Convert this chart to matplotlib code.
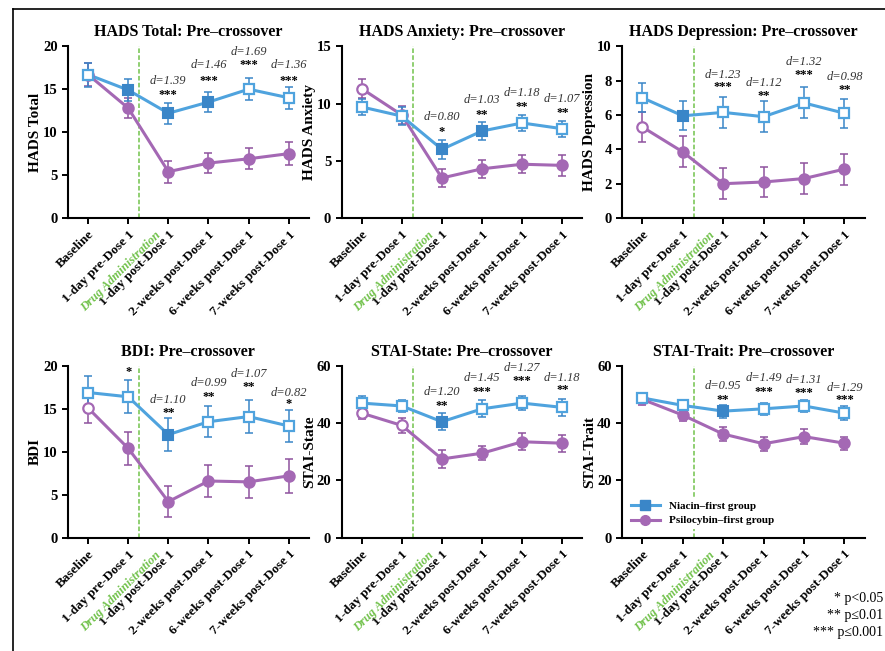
import numpy as np
import matplotlib.pyplot as plt
from matplotlib.lines import Line2D

plt.rcParams['font.family'] = ['Liberation Serif', 'DejaVu Serif']
plt.rcParams['font.weight'] = 'bold'

timepoints = ['Baseline', '1-day pre-Dose 1', '1-day post-Dose 1',
              '2-weeks post-Dose 1', '6-weeks post-Dose 1', '7-weeks post-Dose 1']

# HADS Total
total_nia = [16.7, 14.9, 12.2, 13.5, 15.0, 14.0]
total_nia_err = [1.4, 1.3, 1.2, 1.2, 1.3, 1.3]
total_psi = [16.7, 12.8, 5.4, 6.4, 6.9, 7.5]
total_psi_err = [1.3, 1.2, 1.3, 1.2, 1.2, 1.3]

# HADS Anxiety
anx_nia = [9.7, 8.9, 6.0, 7.6, 8.3, 7.8]
anx_nia_err = [0.7, 0.8, 0.8, 0.8, 0.7, 0.7]
anx_psi = [11.3, 9.0, 3.5, 4.3, 4.7, 4.6]
anx_psi_err = [0.8, 0.8, 0.8, 0.8, 0.8, 0.9]

# HADS Depression
dep_nia = [7.0, 5.95, 6.15, 5.9, 6.7, 6.1]
dep_nia_err = [0.85, 0.85, 0.9, 0.9, 0.9, 0.85]
dep_psi = [5.3, 3.85, 2.0, 2.1, 2.3, 2.85]
dep_psi_err = [0.9, 0.9, 0.9, 0.9, 0.9, 0.9]

# BDI
bdi_nia = [16.9, 16.4, 12.0, 13.5, 14.1, 13.0]
bdi_nia_err = [1.9, 1.9, 1.9, 1.8, 1.9, 1.9]
bdi_psi = [15.1, 10.4, 4.2, 6.6, 6.5, 7.2]
bdi_psi_err = [1.8, 1.9, 1.8, 1.9, 1.9, 2.0]

# STAI-State
state_nia = [47.0, 46.0, 40.5, 45.0, 47.0, 45.5]
state_nia_err = [2.5, 2.0, 3.0, 3.0, 2.5, 3.0]
state_psi = [43.5, 39.2, 27.5, 29.5, 33.5, 33.0]
state_psi_err = [2.0, 2.5, 3.0, 2.5, 3.0, 3.0]

# STAI-Trait
trait_nia = [48.8, 46.2, 44.2, 45.0, 46.0, 43.5]
trait_nia_err = [1.8, 1.8, 2.3, 2.0, 2.0, 2.5]
trait_psi = [48.3, 42.8, 36.2, 32.8, 35.3, 33.0]
trait_psi_err = [1.8, 2.0, 2.5, 2.5, 2.5, 2.3]

# filled (1) / open (0) markers
total_nia_fill = [0, 1, 1, 1, 0, 0]
total_psi_fill = [0, 1, 1, 1, 1, 1]
anx_nia_fill = [0, 0, 1, 1, 0, 0]
anx_psi_fill = [0, 0, 1, 1, 1, 1]
dep_nia_fill = [0, 1, 0, 0, 0, 0]
dep_psi_fill = [0, 1, 1, 1, 1, 1]
bdi_nia_fill = [0, 0, 1, 0, 0, 0]
bdi_psi_fill = [0, 1, 1, 1, 1, 1]
state_nia_fill = [0, 0, 1, 0, 0, 0]
state_psi_fill = [0, 0, 1, 1, 1, 1]
trait_nia_fill = [0, 0, 1, 0, 0, 0]
trait_psi_fill = [1, 1, 1, 1, 1, 1]

# significance and effect sizes
total_idx, total_stars, total_d = [2, 3, 4, 5], ['***', '***', '***', '***'], ['1.39', '1.46', '1.69', '1.36']
anx_idx, anx_stars, anx_d = [2, 3, 4, 5], ['*', '**', '**', '**'], ['0.80', '1.03', '1.18', '1.07']
dep_idx, dep_stars, dep_d = [2, 3, 4, 5], ['***', '**', '***', '**'], ['1.23', '1.12', '1.32', '0.98']
bdi_idx, bdi_stars, bdi_d = [1, 2, 3, 4, 5], ['*', '**', '**', '**', '*'], ['', '1.10', '0.99', '1.07', '0.82']
state_idx, state_stars, state_d = [2, 3, 4, 5], ['**', '***', '***', '**'], ['1.20', '1.45', '1.27', '1.18']
trait_idx, trait_stars, trait_d = [2, 3, 4, 5], ['**', '***', '***', '***'], ['0.95', '1.49', '1.31', '1.29']

# label heights (data units)
total_sy, total_dy = [14.3, 16.0, 17.8, 16.0], [15.9, 17.8, 19.3, 17.8]
anx_sy, anx_dy = [7.5, 9.0, 9.7, 9.2], [8.8, 10.3, 10.9, 10.4]
dep_sy, dep_dy = [7.6, 7.1, 8.3, 7.45], [8.3, 7.85, 9.1, 8.2]
bdi_sy, bdi_dy = [19.3, 14.5, 16.4, 17.5, 15.6], [0, 16.0, 18.0, 19.0, 16.9]
state_sy, state_dy = [46, 50.9, 54.7, 51.6], [51, 55.8, 59.3, 55.8]
trait_sy, trait_dy = [48, 51, 50.7, 48], [52.8, 55.9, 54.9, 52.4]

panels = [
    ('HADS Total', 20, 5, total_nia, total_nia_err, total_psi, total_psi_err, total_nia_fill, total_psi_fill,
     total_idx, total_stars, total_d, total_sy, total_dy),
    ('HADS Anxiety', 15, 5, anx_nia, anx_nia_err, anx_psi, anx_psi_err, anx_nia_fill, anx_psi_fill,
     anx_idx, anx_stars, anx_d, anx_sy, anx_dy),
    ('HADS Depression', 10, 2, dep_nia, dep_nia_err, dep_psi, dep_psi_err, dep_nia_fill, dep_psi_fill,
     dep_idx, dep_stars, dep_d, dep_sy, dep_dy),
    ('BDI', 20, 5, bdi_nia, bdi_nia_err, bdi_psi, bdi_psi_err, bdi_nia_fill, bdi_psi_fill,
     bdi_idx, bdi_stars, bdi_d, bdi_sy, bdi_dy),
    ('STAI-State', 60, 20, state_nia, state_nia_err, state_psi, state_psi_err, state_nia_fill, state_psi_fill,
     state_idx, state_stars, state_d, state_sy, state_dy),
    ('STAI-Trait', 60, 20, trait_nia, trait_nia_err, trait_psi, trait_psi_err, trait_nia_fill, trait_psi_fill,
     trait_idx, trait_stars, trait_d, trait_sy, trait_dy),
]

blue = '#4fa3de'
blue_dark = '#3a86c8'
purple = '#a468b4'
purple_dark = '#8e529e'
green = '#72c24c'

fig = plt.figure(figsize=(8.85, 6.51), dpi=100)
lefts = [0.0768, 0.386, 0.703]
rights = [0.349, 0.658, 0.977]
bottoms = [0.665, 0.174]
height = 0.264

x = np.arange(len(timepoints))


def draw_series(ax, y, err, fill, color, dark, face, marker):
    y = np.array(y)
    fill = np.array(fill, dtype=bool)
    ax.errorbar(x, y, yerr=err, fmt='none', ecolor=dark, elinewidth=1.1, capsize=3, capthick=1.1, zorder=2)
    ax.plot(x, y, color=color, lw=2.2, zorder=3)
    ax.plot(x[fill], y[fill], ls='none', marker=marker, ms=7.5, mfc=face, mec=face, mew=1.5, zorder=4)
    ax.plot(x[~fill], y[~fill], ls='none', marker=marker, ms=7.5, mfc='white', mec=color, mew=1.6, zorder=4)


for i, p in enumerate(panels):
    (name, ymax, ystep, nia, nia_err, psi, psi_err, nia_fill, psi_fill,
     idx, stars, dvals, sy, dy) = p
    r, c = divmod(i, 3)
    ax = fig.add_axes([lefts[c], bottoms[r], rights[c] - lefts[c], height])

    ax.axvline(1.27, color=green, lw=1.1, ls=(0, (3, 1.5)), zorder=1)
    draw_series(ax, psi, psi_err, psi_fill, purple, purple_dark, purple, 'o')
    draw_series(ax, nia, nia_err, nia_fill, blue, blue_dark, blue_dark, 's')

    for k, j in enumerate(idx):
        ax.text(j, sy[k], stars[k], ha='center', va='center', fontsize=9, fontweight='bold')
        if dvals[k]:
            ax.text(j, dy[k], 'd=' + dvals[k], ha='center', va='center', fontsize=9,
                    style='italic', fontweight='normal', color='#333333')

    ax.set_xlim(-0.5, 5.5)
    ax.set_ylim(0, ymax)
    ax.set_yticks(np.arange(0, ymax + 0.1, ystep))
    ax.set_xticks(x)
    ax.set_xticklabels(timepoints, rotation=45, ha='right', rotation_mode='anchor', fontsize=9.5)
    ax.tick_params(axis='y', labelsize=10.5, width=1.4, length=4)
    ax.tick_params(axis='x', width=1.4, length=4)
    for s in ['top', 'right']:
        ax.spines[s].set_visible(False)
    for s in ['left', 'bottom']:
        ax.spines[s].set_linewidth(1.5)
    ax.set_ylabel(name, fontsize=11, fontweight='bold', labelpad=0.5)
    ax.set_title(name + ': Pre\u2013crossover', fontsize=11.5, fontweight='bold', pad=7)
    ax.annotate('Drug Administration', xy=(1, 0), xycoords=('data', 'axes fraction'),
                xytext=(19, -8), textcoords='offset points', rotation=45, rotation_mode='anchor',
                ha='right', va='top', fontsize=9, style='italic', fontweight='bold', color=green)

    if i == 5:
        handles = [Line2D([], [], color=blue, lw=2.2, marker='s', ms=7, mfc=blue_dark, mec=blue_dark),
                   Line2D([], [], color=purple, lw=2.2, marker='o', ms=7, mfc=purple, mec=purple)]
        leg = ax.legend(handles, ['Niacin\u2013first group', 'Psilocybin\u2013first group'],
                        loc='lower left', bbox_to_anchor=(0.0, 0.02), frameon=True, framealpha=1,
                        edgecolor='none', facecolor='white', fontsize=8, handlelength=2.6,
                        borderpad=0.3, labelspacing=0.45)
        leg.set_zorder(5)

fig.text(0.998, 0.080, '* p<0.05', ha='right', va='center', fontsize=10, fontweight='normal')
fig.text(0.998, 0.054, '** p\u22640.01', ha='right', va='center', fontsize=10, fontweight='normal')
fig.text(0.998, 0.028, '*** p\u22640.001', ha='right', va='center', fontsize=10, fontweight='normal')

# frame around the figure
fig.add_artist(Line2D([0.0147, 1.0], [0.986, 0.986], transform=fig.transFigure, color='black', lw=1.2))
fig.add_artist(Line2D([0.0147, 0.0147], [0.0, 0.986], transform=fig.transFigure, color='black', lw=1.2))

fig.savefig('out.png', dpi=100)
